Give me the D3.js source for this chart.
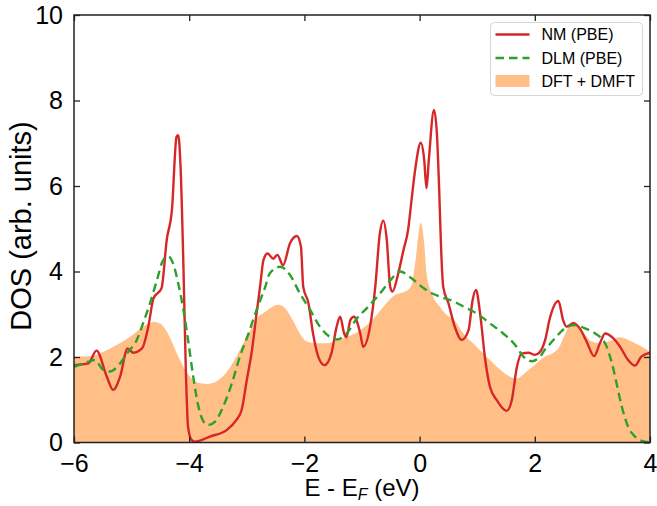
<!DOCTYPE html>
<html>
<head>
<meta charset="utf-8">
<script src="https://cdn.jsdelivr.net/npm/d3@7"></script>
<style>
  html, body { margin: 0; padding: 0; background: #fff; }
  svg { display: block; font-family: "Liberation Sans", Arial, Helvetica, sans-serif; }
</style>
</head>
<body>
<svg id="chart" width="657" height="506"></svg>
<script>
// Non-magnetic PBE density of states
const nmE = [-6.0, -5.75, -5.61, -5.43, -5.32, -5.20, -5.07, -4.97, -4.82, -4.71, -4.62, -4.48, -4.39, -4.30, -4.22, -4.19, -4.15, -4.10, -4.06, -4.02, -3.96, -3.90, -3.64, -3.35, -3.18, -3.09, -3.00, -2.91, -2.83, -2.77, -2.71, -2.64, -2.54, -2.47, -2.37, -2.25, -2.13, -2.06, -2.02, -1.93, -1.85, -1.76, -1.65, -1.53, -1.44, -1.38, -1.31, -1.27, -1.20, -1.14, -1.03, -0.98, -0.86, -0.77, -0.69, -0.63, -0.57, -0.51, -0.47, -0.37, -0.28, -0.20, -0.14, -0.07, 0.02, 0.08, 0.12, 0.16, 0.25, 0.30, 0.34, 0.37, 0.41, 0.50, 0.61, 0.73, 0.85, 0.92, 0.98, 1.05, 1.14, 1.22, 1.34, 1.51, 1.60, 1.69, 1.77, 1.89, 2.00, 2.09, 2.18, 2.26, 2.41, 2.49, 2.55, 2.67, 2.78, 2.90, 3.03, 3.13, 3.22, 3.36, 3.48, 3.62, 3.74, 3.85, 4.00];
const nmDOS = [1.81, 1.85, 2.15, 1.54, 1.23, 1.54, 2.20, 2.10, 2.20, 2.71, 3.37, 3.61, 4.74, 5.44, 7.15, 7.19, 6.45, 4.11, 1.77, 0.37, 0.06, 0.02, 0.14, 0.29, 0.53, 0.76, 1.46, 2.16, 3.02, 3.64, 4.27, 4.42, 4.30, 4.39, 4.15, 4.66, 4.83, 4.58, 3.64, 3.26, 2.55, 2.01, 1.81, 2.09, 2.71, 2.94, 2.55, 2.46, 2.87, 2.94, 2.55, 2.24, 2.71, 3.64, 4.89, 5.19, 4.74, 3.64, 3.53, 3.96, 4.50, 4.97, 5.67, 6.45, 7.01, 6.61, 5.95, 6.61, 7.78, 7.23, 5.91, 4.66, 3.64, 3.26, 2.71, 2.40, 2.63, 3.33, 3.57, 3.02, 1.93, 1.31, 0.99, 0.74, 0.99, 1.77, 2.08, 2.10, 2.05, 2.12, 2.40, 2.90, 3.31, 2.87, 2.71, 2.79, 2.67, 2.36, 2.02, 2.32, 2.55, 2.44, 2.24, 1.93, 1.80, 2.01, 2.10];

// Disordered local moment PBE density of states
const dlmE = [-6.0, -5.75, -5.64, -5.50, -5.38, -5.20, -5.06, -4.91, -4.80, -4.68, -4.56, -4.45, -4.36, -4.28, -4.19, -4.10, -4.02, -3.93, -3.84, -3.75, -3.67, -3.55, -3.41, -3.26, -3.12, -2.97, -2.83, -2.68, -2.60, -2.42, -2.25, -2.08, -1.90, -1.73, -1.56, -1.44, -1.27, -1.09, -0.89, -0.66, -0.48, -0.34, -0.14, 0.04, 0.21, 0.38, 0.61, 0.76, 0.99, 1.22, 1.45, 1.66, 1.80, 1.95, 2.09, 2.18, 2.26, 2.35, 2.52, 2.70, 2.87, 3.05, 3.22, 3.34, 3.42, 3.51, 3.62, 3.74, 3.91, 4.00];
const dlmDOS = [1.77, 1.89, 1.93, 1.71, 1.66, 1.85, 2.12, 2.40, 2.79, 3.26, 3.80, 4.27, 4.35, 4.19, 3.72, 3.10, 2.40, 1.54, 0.84, 0.49, 0.41, 0.49, 0.84, 1.38, 2.01, 2.55, 3.10, 3.64, 3.96, 4.11, 3.92, 3.49, 3.10, 2.71, 2.47, 2.41, 2.55, 2.90, 3.18, 3.53, 3.84, 4.00, 3.84, 3.64, 3.49, 3.40, 3.29, 3.18, 3.02, 2.79, 2.55, 2.28, 2.01, 1.90, 2.01, 2.18, 2.30, 2.44, 2.67, 2.75, 2.67, 2.55, 2.32, 1.85, 1.38, 0.84, 0.37, 0.14, 0.02, 0.01];

// DFT + DMFT spectral function
const dmftE = [-6.0, -5.72, -5.49, -5.26, -5.03, -4.80, -4.62, -4.50, -4.40, -4.30, -4.19, -4.07, -3.96, -3.78, -3.67, -3.49, -3.32, -3.15, -2.97, -2.80, -2.68, -2.60, -2.45, -2.31, -2.19, -2.08, -1.96, -1.79, -1.61, -1.44, -1.27, -1.12, -0.95, -0.77, -0.60, -0.43, -0.25, -0.14, -0.07, 0.02, 0.08, 0.12, 0.21, 0.35, 0.47, 0.61, 0.76, 0.99, 1.22, 1.40, 1.57, 1.69, 1.86, 2.03, 2.18, 2.30, 2.42, 2.53, 2.67, 2.81, 2.99, 3.13, 3.28, 3.48, 3.68, 3.86, 4.00];
const dmftDOS = [2.01, 2.02, 2.12, 2.28, 2.47, 2.71, 2.82, 2.78, 2.62, 2.35, 2.01, 1.70, 1.50, 1.38, 1.37, 1.46, 1.70, 2.09, 2.55, 2.94, 3.06, 3.14, 3.22, 3.10, 2.83, 2.55, 2.36, 2.32, 2.32, 2.38, 2.46, 2.55, 2.71, 2.94, 3.22, 3.45, 3.53, 3.68, 4.27, 5.14, 4.66, 3.96, 3.49, 3.18, 2.98, 2.85, 2.55, 2.24, 1.93, 1.70, 1.54, 1.50, 1.66, 1.85, 2.01, 2.08, 2.22, 2.55, 2.83, 2.63, 2.36, 2.32, 2.36, 2.46, 2.36, 2.24, 2.12];

const xTicks = [-6, -4, -2, 0, 2, 4];
const yTicks = [0, 2, 4, 6, 8, 10];
const seriesNames = ["NM (PBE)", "DLM (PBE)", "DFT + DMFT"];

const colors = { nm: "#d62728", dlm: "#2ca02c", dmft: "#ffbf86" };

const margin = { left: 74, right: 7, top: 15, bottom: 63.5 };
const W = 657, H = 506;
const svg = d3.select("#chart");

const x = d3.scaleLinear().domain([-6, 4]).range([margin.left, W - margin.right]);
const y = d3.scaleLinear().domain([0, 10]).range([H - margin.bottom, margin.top]);

const zip = (xs, ys) => xs.map((e, i) => [e, ys[i]]);
const nm = zip(nmE, nmDOS), dlm = zip(dlmE, dlmDOS), dmft = zip(dmftE, dmftDOS);

svg.append("clipPath").attr("id", "plotclip")
  .append("rect")
  .attr("x", x(-6)).attr("y", y(10))
  .attr("width", x(4) - x(-6)).attr("height", y(0) - y(10));

const plot = svg.append("g").attr("clip-path", "url(#plotclip)");

const area = d3.area()
  .x(d => x(d[0])).y0(y(0)).y1(d => y(d[1]))
  .curve(d3.curveMonotoneX);
const line = d3.line()
  .x(d => x(d[0])).y(d => y(d[1]))
  .curve(d3.curveMonotoneX);

plot.append("path").datum(dmft)
  .attr("d", area).attr("fill", colors.dmft).attr("stroke", "none");

plot.append("path").datum(nm)
  .attr("d", line).attr("fill", "none")
  .attr("stroke", colors.nm).attr("stroke-width", 2.4)
  .attr("stroke-linejoin", "round");

plot.append("path").datum(dlm)
  .attr("d", line).attr("fill", "none")
  .attr("stroke", colors.dlm).attr("stroke-width", 2.4)
  .attr("stroke-dasharray", "8.5,5");

// Axes with inward ticks on all four sides
const tickLen = 6;
const axisColor = "#222";
const fontTick = 25;

const xAxisB = d3.axisBottom(x).tickValues(xTicks).tickSizeInner(-tickLen).tickSizeOuter(0)
  .tickPadding(12).tickFormat(d => d3.format("d")(d).replace("-", "\u2212"));
const gxb = svg.append("g").attr("transform", `translate(0,${y(0)})`).call(xAxisB);

const xAxisT = d3.axisTop(x).tickValues(xTicks).tickSizeInner(-tickLen).tickSizeOuter(0).tickFormat("");
const gxt = svg.append("g").attr("transform", `translate(0,${y(10)})`).call(xAxisT);

const yAxisL = d3.axisLeft(y).tickValues(yTicks).tickSizeInner(-tickLen).tickSizeOuter(0)
  .tickPadding(tickLen + 5).tickFormat(d3.format("d"));
const gyl = svg.append("g").attr("transform", `translate(${x(-6)},0)`).call(yAxisL);

const yAxisR = d3.axisRight(y).tickValues(yTicks).tickSizeInner(-tickLen).tickSizeOuter(0).tickFormat("");
const gyr = svg.append("g").attr("transform", `translate(${x(4)},0)`).call(yAxisR);

[gxb, gxt, gyl, gyr].forEach(g => {
  g.select(".domain").remove();
  g.selectAll(".tick line").attr("stroke", axisColor).attr("stroke-width", 1.3);
  g.selectAll(".tick text").attr("fill", "#000")
    .style("font-family", '"Liberation Sans", Arial, sans-serif')
    .style("font-size", fontTick + "px");
});

// Frame
svg.append("rect")
  .attr("x", x(-6)).attr("y", y(10))
  .attr("width", x(4) - x(-6)).attr("height", y(0) - y(10))
  .attr("fill", "none").attr("stroke", axisColor).attr("stroke-width", 1.5);

// Axis titles
const xt = svg.append("text")
  .attr("x", (x(-6) + x(4)) / 2).attr("y", 496)
  .attr("text-anchor", "middle").style("font-size", "24px").attr("fill", "#000");
xt.append("tspan").text("E - E");
xt.append("tspan").text("F").style("font-style", "italic").style("font-size", "16px").attr("dy", 4);
xt.append("tspan").text(" (eV)").attr("dy", -4);

svg.append("text")
  .attr("transform", `translate(31,226) rotate(-90)`)
  .attr("text-anchor", "middle").style("font-size", "29px").attr("fill", "#000")
  .text("DOS (arb. units)");

// Legend
const lg = svg.append("g").attr("transform", "translate(490.5,22.5)");
lg.append("rect").attr("width", 152).attr("height", 73).attr("rx", 4)
  .attr("fill", "#fff").attr("fill-opacity", 0.8)
  .attr("stroke", "#d5d5d5").attr("stroke-width", 1);
const rows = [12, 35.5, 58.5];
lg.append("line").attr("x1", 5).attr("x2", 39).attr("y1", rows[0]).attr("y2", rows[0])
  .attr("stroke", colors.nm).attr("stroke-width", 2.4);
lg.append("line").attr("x1", 5).attr("x2", 39).attr("y1", rows[1]).attr("y2", rows[1])
  .attr("stroke", colors.dlm).attr("stroke-width", 2.4).attr("stroke-dasharray", "8.5,5");
lg.append("rect").attr("x", 5).attr("y", rows[2] - 6).attr("width", 34).attr("height", 12)
  .attr("fill", colors.dmft);
seriesNames.forEach((name, i) => {
  lg.append("text").attr("x", 51).attr("y", rows[i] + 5.5)
    .style("font-size", "16px").attr("fill", "#000").text(name);
});
</script>
</body>
</html>
